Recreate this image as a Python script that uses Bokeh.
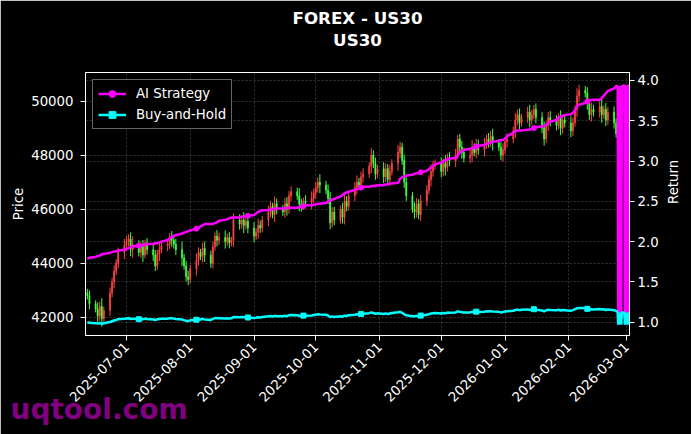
import numpy as np
import pandas as pd
from math import pi
from bokeh.plotting import figure
from bokeh.models import (Range1d, LinearAxis, Grid, FixedTicker, MonthsTicker,
                          DatetimeTickFormatter, NumeralTickFormatter, Title,
                          Legend, LegendItem, ColumnDataSource)
from bokeh.embed import file_html
from bokeh.resources import INLINE

# ---------------- data ----------------
title_main = "FOREX - US30"
title_sub = "US30"
watermark = "uqtool.com"

start_date = "2025-06-12"
end_date = "2026-02-24"
first_open = 42900

closes = [
    42800, 42500,
    42300, 42050, 42400, 41950, 42250,
    42900, 43300, 43700, 44000, 44400,
    44650, 44800, 44900, 44500, 44700,
    44400, 44600, 44300, 44750, 44500,
    44300, 43900, 44350, 44500, 44650,
    44700, 44950, 44850, 44700, 44500,
    44200, 43900, 43500, 43400, 43800,
    44100, 44400, 44250, 44550, 44300,
    44000, 44600, 45000, 44850, 44950,
    44800, 44950, 44750, 44850, 45600,
    45450, 45600, 45400, 45550, 45300,
    45000, 45150, 45400, 45300, 45600,
    45900, 46100, 45800, 46200, 46000,
    45900, 46200, 46000, 46500, 46650,
    46500, 46200, 46100, 46300, 46250,
    46400, 46600, 46800, 47000, 46900,
    46700, 46400, 45500, 45900, 45600,
    46000, 45700, 46300, 46100, 46500,
    46800, 47000, 46900, 47200, 47300,
    47600, 48000, 47700, 47300, 47500,
    47200, 47500, 47100, 47400, 47700,
    48100, 48300, 47800, 47000, 46500,
    46000, 45900, 46200, 45800, 46300,
    46700, 47100, 47400, 47600, 47700,
    47400, 47700, 47550, 47900, 47800,
    48000, 48600, 48300, 48100, 47900,
    48000, 48300, 48100, 48400, 48200,
    48400, 48600, 48500, 48700, 48450,
    48300, 48000, 48200, 48500, 48600,
    48900, 49300, 49500, 49200, 49400,
    49600, 49300, 49500, 49700, 49400,
    49000, 48600, 49100, 49400, 49300,
    49100, 49400, 49000, 49300, 49200,
    48900, 49200, 49700, 50200, 50400,
    50300, 49900, 49500, 49700, 49600,
    49800, 49500, 49700, 49300, 49600,
    49200, 48800,
]

wick = [
    150, 200, 120, 250, 180, 300, 140, 200, 160, 220, 150, 180, 250, 200, 170, 240, 300, 150, 200, 260, 120, 180, 220,
    190, 150, 280, 130, 210, 170, 240, 160, 200, 300, 140, 180, 220, 150, 260, 190, 130, 210, 250, 170, 200, 140, 230,
    180, 260, 150, 200, 130, 240, 210, 170, 290, 150, 190, 220, 140, 250, 180, 160, 230, 200, 140, 270, 190, 150, 210,
    240, 170, 200, 150, 280, 190, 130, 220, 260, 160, 200, 180, 300, 150, 210, 240, 170, 190, 140, 230, 260, 180, 150,
    200, 250, 160, 190, 220, 140, 270, 180, 210, 150, 240, 190, 170, 230, 150, 280, 200, 160, 220, 190, 140, 250, 210,
    170, 230, 190, 150, 260, 200, 140, 220, 180, 300, 160, 210, 240, 150, 190, 230, 170, 200, 260, 140, 210, 180, 250,
    160, 220, 200, 280, 150, 190, 240, 170, 210, 150, 260, 190, 230, 140, 200, 270, 180, 160, 220, 190, 250, 150, 200,
    230, 180, 150, 260, 200, 170, 240, 190, 140, 280, 210, 160, 220, 190, 250, 170, 200, 300, 150, 230, 180, 210, 160,
]

ai_return = [
    1.79, 1.80,
    1.81, 1.82, 1.83, 1.84, 1.85,
    1.86, 1.87, 1.88, 1.88, 1.89,
    1.90, 1.91, 1.92, 1.93, 1.94,
    1.95, 1.95, 1.96, 1.96, 1.97,
    1.97, 1.98, 1.98, 1.99, 2.00,
    2.02, 2.04, 2.06, 2.07, 2.08,
    2.10, 2.11, 2.12, 2.13, 2.14,
    2.16, 2.17, 2.19, 2.20, 2.22,
    2.22, 2.22, 2.23, 2.24, 2.26,
    2.27, 2.28, 2.29, 2.30, 2.30,
    2.30, 2.31, 2.31, 2.32, 2.32,
    2.33, 2.35, 2.37, 2.38, 2.39,
    2.39, 2.40, 2.40, 2.41, 2.41,
    2.41, 2.41, 2.42, 2.42, 2.42,
    2.42, 2.43, 2.43, 2.44, 2.45,
    2.45, 2.46, 2.46, 2.47, 2.47,
    2.48, 2.50, 2.51, 2.52, 2.53,
    2.56, 2.58, 2.60, 2.61, 2.62,
    2.64, 2.65, 2.66, 2.67, 2.68,
    2.68, 2.69, 2.69, 2.69, 2.70,
    2.70, 2.71, 2.71, 2.72, 2.72,
    2.73, 2.78, 2.80, 2.81, 2.82,
    2.83, 2.84, 2.85, 2.85, 2.86,
    2.88, 2.90, 2.92, 2.94, 2.96,
    2.98, 3.00, 3.01, 3.02, 3.03,
    3.04, 3.07, 3.10, 3.13, 3.14,
    3.15, 3.16, 3.17, 3.18, 3.19,
    3.20, 3.21, 3.22, 3.23, 3.24,
    3.25, 3.26, 3.26, 3.28, 3.31,
    3.35, 3.37, 3.38, 3.38, 3.38,
    3.39, 3.39, 3.40, 3.41, 3.42,
    3.43, 3.44, 3.45, 3.47, 3.49,
    3.51, 3.54, 3.55, 3.56, 3.57,
    3.58, 3.60, 3.63, 3.68, 3.70,
    3.72, 3.74, 3.75, 3.76, 3.76,
    3.76, 3.78, 3.81, 3.84, 3.87,
    3.90, 3.93,
]

# last few days: intraday points where both curves jump back and forth
tail_start = "2026-02-24 12:00"
tail_freq = "6h"
ai_tail = [3.93, 3.93, 1.05, 3.93, 1.05, 3.93, 1.05, 3.93, 1.05, 3.93,
           3.93, 3.93, 3.93, 3.94, 3.94, 1.05, 3.94, 1.05, 3.94, 1.05,
           3.94, 1.05, 3.95, 1.05, 3.95]
bh_tail = [1.13, 1.13, 0.97, 1.12, 0.97, 1.12, 0.98, 1.12, 0.97, 1.12,
           1.12, 1.12, 1.12, 1.12, 1.12, 0.97, 1.12, 0.98, 1.12, 0.97,
           1.12, 0.98, 1.12, 0.97, 1.12]

marker_dates = ["2025-07-07", "2025-08-04", "2025-08-29", "2025-09-25", "2025-10-23",
                "2025-11-21", "2025-12-18", "2026-01-15", "2026-02-10"]

price_ticks = [42000, 44000, 46000, 48000, 50000]
return_ticks = [1.0, 1.5, 2.0, 2.5, 3.0, 3.5, 4.0]

# ---------------- styling ----------------
FONT = "DejaVu Sans"
RED = "#ff4444"
GREEN = "#44ff44"
MAGENTA = "#ff00ff"
CYAN = "#00ffff"
TICK_SIZE = "13.3px"

dates = pd.bdate_range(start_date, end_date)
c = np.array(closes, dtype=float)
o = np.concatenate([[first_open], c[:-1]])
w = np.array(wick, dtype=float)
hi = np.maximum(o, c) + w
lo = np.minimum(o, c) - w
col = np.where(c >= o, RED, GREEN)
bh_return = c / c[0]

candles = ColumnDataSource(dict(date=dates, top=np.maximum(o, c), bottom=np.minimum(o, c),
                                high=hi, low=lo, color=col))

tail_times = pd.date_range(tail_start, periods=len(ai_tail), freq=tail_freq)
line_x = list(dates) + list(tail_times)
ai_all = list(ai_return) + ai_tail
bh_all = list(bh_return) + bh_tail
pos = {d: i for i, d in enumerate(dates)}
mk_idx = [pos[pd.Timestamp(d)] for d in marker_dates]

p = figure(width=691, height=434, x_axis_type="datetime", output_backend="svg",
           toolbar_location=None, title=None,
           x_range=Range1d(pd.Timestamp("2025-06-11 02:00"), pd.Timestamp("2026-03-02 12:00")),
           y_range=Range1d(41322, 51063),
           background_fill_color="black", border_fill_color="black",
           min_border_left=85, min_border_right=61, min_border_top=72, min_border_bottom=99)
p.outline_line_color = "white"
p.outline_line_width = 1
p.outline_line_alpha = 1.0
p.extra_y_ranges = {"ret": Range1d(0.835, 4.099)}

# axes
p.yaxis.ticker = FixedTicker(ticks=price_ticks)
p.yaxis.formatter = NumeralTickFormatter(format="0")
p.yaxis.axis_label = "Price"
p.xaxis.ticker = MonthsTicker(months=list(range(12)))
fmt = "%Y-%m-%d"
p.xaxis.formatter = DatetimeTickFormatter(days=fmt, months=fmt, years=fmt)
p.xaxis.major_label_orientation = pi / 4

ax_r = LinearAxis(y_range_name="ret", axis_label="Return",
                  ticker=FixedTicker(ticks=return_ticks),
                  formatter=NumeralTickFormatter(format="0.0"))
p.add_layout(ax_r, "right")

for ax in [p.xaxis[0], p.yaxis[0], ax_r]:
    ax.axis_line_color = "white"
    ax.major_tick_line_color = "white"
    ax.minor_tick_line_color = None
    ax.major_tick_out = 5
    ax.major_tick_in = 0
    ax.major_label_text_color = "white"
    ax.major_label_text_font = FONT
    ax.major_label_text_font_size = TICK_SIZE
    ax.axis_label_text_color = "white"
    ax.axis_label_text_font = FONT
    ax.axis_label_text_font_size = TICK_SIZE
    ax.axis_label_text_font_style = "normal"
p.yaxis[0].major_label_standoff = 7
p.yaxis[0].axis_label_standoff = 2
p.xaxis[0].major_label_standoff = 4
ax_r.major_label_standoff = 3
ax_r.axis_label_standoff = 12
if "axis_label_orientation" in ax_r.properties():
    ax_r.axis_label_orientation = pi / 2

# grids
for g in [p.xgrid[0], p.ygrid[0]]:
    g.grid_line_color = "#8a8a8a"
    g.grid_line_alpha = 0.55
    g.grid_line_dash = "2 2"
    g.grid_line_width = 0.7
g2 = Grid(dimension=1, ticker=ax_r.ticker, y_range_name="ret",
          grid_line_color="#8a8a8a", grid_line_alpha=0.55, grid_line_dash="2 2",
          grid_line_width=0.7)
p.add_layout(g2)

# candlesticks
p.segment(x0="date", y0="low", x1="date", y1="high", color="color", line_width=1, source=candles)
p.vbar(x="date", width=0.6 * 86400000, top="top", bottom="bottom",
       fill_color="color", line_color="color", line_width=0.5, source=candles)

# return lines
ai_line = p.line(line_x, ai_all, color=MAGENTA, line_width=2.5, y_range_name="ret")
ai_mk = p.scatter([dates[i] for i in mk_idx], [ai_return[i] for i in mk_idx],
                  marker="circle", size=5, color=MAGENTA, y_range_name="ret")
bh_line = p.line(line_x, bh_all, color=CYAN, line_width=2.5, y_range_name="ret")
bh_mk = p.scatter([dates[i] for i in mk_idx], [bh_return[i] for i in mk_idx],
                  marker="square", size=5, color=CYAN, y_range_name="ret")

legend = Legend(items=[LegendItem(label="AI Strategy", renderers=[ai_line, ai_mk]),
                       LegendItem(label="Buy-and-Hold", renderers=[bh_line, bh_mk])],
                location="top_left", margin=7, padding=5, spacing=4,
                glyph_width=28, glyph_height=17, label_height=17, label_standoff=10,
                background_fill_color="black", background_fill_alpha=0.85,
                border_line_color="#cccccc", border_line_width=1,
                label_text_color="white", label_text_font=FONT,
                label_text_font_size=TICK_SIZE)
p.add_layout(legend)

# titles: a spacer next to the frame, then the two title lines
p.add_layout(Title(text=" ", text_font_size="10px", standoff=10), "above")
p.add_layout(Title(text=title_sub, align="center", text_color="white", text_font=FONT,
                   text_font_size="16.7px", text_font_style="bold", standoff=0), "above")
p.add_layout(Title(text=title_main, align="center", text_color="white", text_font=FONT,
                   text_font_size="16.7px", text_font_style="bold", standoff=0), "above")
# watermark below the axis, pulled up to overlap the date labels like the original
p.add_layout(Title(text=watermark, align="left", vertical_align="top", offset=-75,
                   standoff=-34, text_color="#800080", text_font=FONT,
                   text_font_size="28px", text_font_style="bold"), "below")

open("out.html", "w").write(file_html(p, INLINE))
